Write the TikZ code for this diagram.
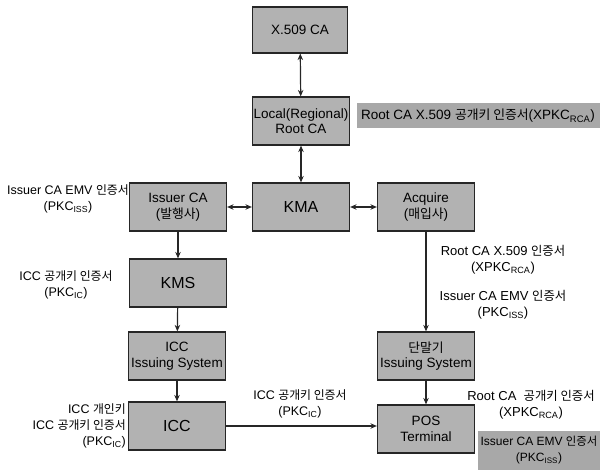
\documentclass[tikz,border=0pt]{standalone}
\usepackage{fontspec}
\setmainfont{Liberation Sans}
\newfontfamily\kr[Scale=0.95]{Noto Sans CJK KR}
\newcommand{\K}[1]{{\kr #1}}
\usetikzlibrary{arrows.meta}
\begin{document}
\begin{tikzpicture}[x=1pt,y=-1pt,
  box/.style={draw=black!85, line width=1.2pt, fill=black!30, minimum width=97pt, minimum height=48pt,
    align=center, inner sep=1pt, font=\fontsize{13.5}{15.5}\selectfont},
  bigbox/.style={box, font=\fontsize{16}{17}\selectfont},
  lbl/.style={align=center, inner sep=0pt, font=\fontsize{12.5}{16}\selectfont},
  arr/.style={line width=1.2pt, draw=black!85, -{Stealth[length=6.5pt,width=5.5pt]}},
  darr/.style={line width=1.2pt, draw=black!85, {Stealth[length=6.5pt,width=5.5pt]}-{Stealth[length=6.5pt,width=5.5pt]}}
]
\useasboundingbox (0,0) rectangle (600,470);

% boxes
\node[box, minimum width=95pt, minimum height=46pt] (x509) at (300,30) {X.509 CA};
\node[box] (root) at (301,121) {Local(Regional)\\Root CA};
\node[bigbox] (kma) at (301,207) {KMA};
\node[box] (issuer) at (178,207) {Issuer CA\\(\K{발행사})};
\node[box] (acq) at (426,207) {Acquire\\(\K{매입사})};
\node[bigbox] (kms) at (178,283) {KMS};
\node[box] (iccis) at (177,356) {ICC\\Issuing System};
\node[bigbox] (icc) at (177,426) {ICC};
\node[box] (termis) at (426,356) {\K{단말기}\\Issuing System};
\node[box] (pos) at (426,429) {POS\\Terminal};

% gray labels
\fill[black!34] (357,103) rectangle (602,128);
\node[lbl, anchor=west, font=\fontsize{13.5}{16}\selectfont] (rootlbl) at (361,116) {Root CA X.509 \K{공개키 인증서}(XPKC\textsubscript{RCA})};
\fill[black!34] (478,431) rectangle (602,470);
\node[lbl, font=\fontsize{12}{16}\selectfont] (isslbl) at (539,450) {Issuer CA EMV \K{인증서}\\(PKC\textsubscript{ISS})};

% plain labels
\node[lbl] (l1) at (68,199) {Issuer CA EMV \K{인증서}\\(PKC\textsubscript{ISS})};
\node[lbl] (l2) at (66,285) {ICC \K{공개키 인증서}\\(PKC\textsubscript{IC})};
\node[lbl, align=right, anchor=east] (l3) at (126,426) {ICC \K{개인키}\\ICC \K{공개키 인증서}\\(PKC\textsubscript{IC})};
\node[lbl] (l4) at (300,404) {ICC \K{공개키 인증서}\\(PKC\textsubscript{IC})};
\node[lbl, font=\fontsize{13}{16}\selectfont] (r1) at (503,260) {Root CA X.509 \K{인증서}\\(XPKC\textsubscript{RCA})};
\node[lbl, font=\fontsize{13}{16}\selectfont] (r2) at (503,305) {Issuer CA EMV \K{인증서}\\(PKC\textsubscript{ISS})};
\node[lbl, font=\fontsize{13}{16}\selectfont] (r3) at (531,405) {Root CA \ \K{공개키 인증서}\\(XPKC\textsubscript{RCA})};

% connectors
\draw[darr] (x509) -- (root);
\draw[darr] (root) -- (kma);
\draw[darr] (issuer) -- (kma);
\draw[darr] (kma) -- (acq);
\draw[arr] (issuer) -- (kms);
\draw[arr] (kms) -- (iccis);
\draw[arr] (iccis) -- (icc);
\draw[arr] (acq) -- (termis);
\draw[arr] (termis) -- (pos);
\draw[arr] (icc.east) -- (icc.east -| pos.west);
\end{tikzpicture}
\end{document}
